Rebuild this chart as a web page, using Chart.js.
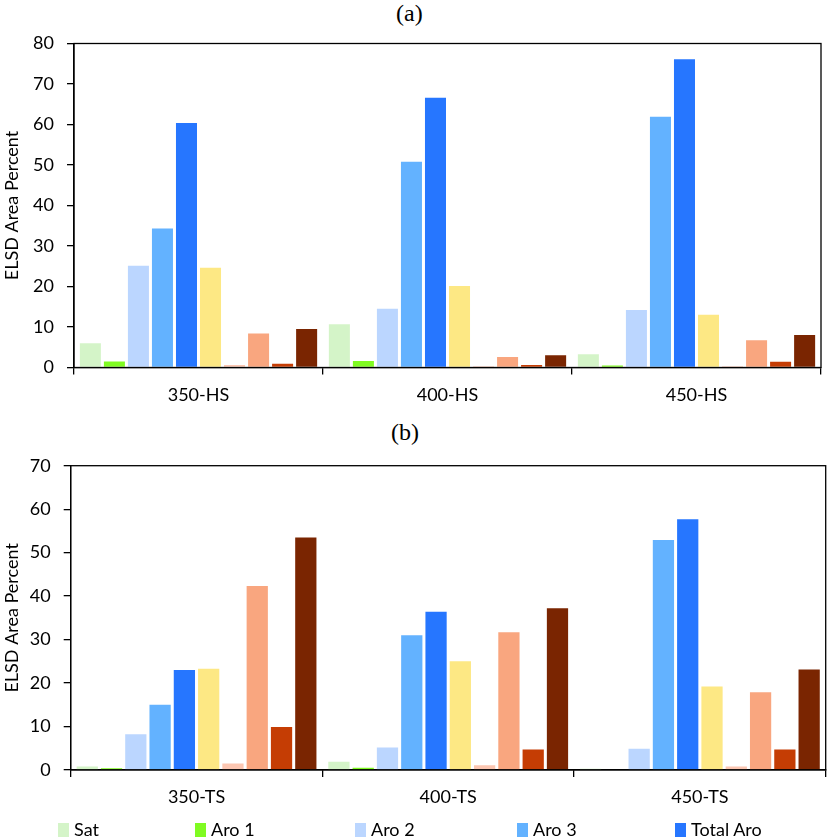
<!DOCTYPE html>
<html>
<head>
<meta charset="utf-8">
<script src="https://cdn.jsdelivr.net/npm/chart.js@4.4.1/dist/chart.umd.min.js"></script>
<style>
  html, body { margin: 0; padding: 0; background: #fff; overflow: hidden; }
  #page { position: relative; width: 827px; height: 837px; font-family: Lato, sans-serif; }
  canvas { position: absolute; left: 0; }
  .panelTitle { position: absolute; font-family: "Liberation Serif", "Times New Roman", serif; font-size: 24px; line-height: 24px; color: #000; }
  .legendItem { position: absolute; top: 819px; font-size: 18px; line-height: 20px; color: #000; white-space: nowrap; }
  .legendItem i { position: absolute; left: 0; top: 4px; width: 11px; height: 16px; }
  .legendItem span { position: absolute; left: 16px; top: 0; }
</style>
</head>
<body>
<div id="page">
  <div class="panelTitle" style="left:396px; top:1px;">(a)</div>
  <canvas id="chartA" width="827" height="418" style="top:0px;"></canvas>
  <div class="panelTitle" style="left:391px; top:420px;">(b)</div>
  <canvas id="chartB" width="827" height="437" style="top:400px;"></canvas>
  <div id="legend"></div>
</div>
<script>
// categories
const groupsHS = ['350-HS', '400-HS', '450-HS'];
const groupsTS = ['350-TS', '400-TS', '450-TS'];

// series names (only the first five are visible in the cropped legend)
const seriesNames = ['Sat', 'Aro 1', 'Aro 2', 'Aro 3', 'Total Aro', 'Sulfides', 'Polar 1', 'Polar 2', 'Polar 3', 'Total Polar'];
const seriesColors = ['#d4f4c8', '#80fb22', '#bbd6ff', '#63b2ff', '#2676ff', '#fde884', '#fcc6b1', '#f9a67f', '#c53d04', '#7a2501'];

// panel (a) values, one array per series, order 350/400/450-HS
const satHS      = [6.0, 10.7, 3.3];
const aro1HS     = [1.5, 1.6, 0.5];
const aro2HS     = [25.1, 14.5, 14.2];
const aro3HS     = [34.3, 50.8, 61.9];
const totAroHS   = [60.4, 66.6, 76.1];
const sulfHS     = [24.6, 20.1, 13.0];
const polar1HS   = [0.6, 0.3, 0.3];
const polar2HS   = [8.4, 2.6, 6.7];
const polar3HS   = [0.9, 0.6, 1.4];
const totPolHS   = [9.5, 3.0, 8.0];

// panel (b) values, order 350/400/450-TS
const satTS      = [0.8, 1.9, 0.3];
const aro1TS     = [0.4, 0.5, 0.2];
const aro2TS     = [8.2, 5.2, 4.9];
const aro3TS     = [15.0, 31.0, 52.9];
const totAroTS   = [23.0, 36.4, 57.7];
const sulfTS     = [23.3, 25.0, 19.2];
const polar1TS   = [1.5, 1.1, 0.8];
const polar2TS   = [42.3, 31.7, 17.9];
const polar3TS   = [9.9, 4.7, 4.7];
const totPolTS   = [53.5, 37.2, 23.1];

const font = { family: 'Lato', size: 18 };

// box round the plot area
const frame = {
  id: 'frame',
  afterDraw(chart) {
    const { ctx, chartArea: a } = chart;
    ctx.save();
    ctx.strokeStyle = '#000';
    ctx.lineWidth = 1.3;
    ctx.strokeRect(a.left, a.top, a.right - a.left, a.bottom - a.top);
    ctx.restore();
  }
};

function makeChart(id, labels, series, yMax, opts) {
  return new Chart(document.getElementById(id), {
    type: 'bar',
    data: {
      labels: labels,
      datasets: series.map((d, i) => ({
        label: seriesNames[i],
        data: d,
        backgroundColor: seriesColors[i],
        borderWidth: 0,
        barPercentage: 0.875,
        categoryPercentage: 0.965
      }))
    },
    options: {
      responsive: false,
      animation: false,
      devicePixelRatio: 1,
      layout: { padding: opts.pad },
      plugins: { legend: { display: false }, tooltip: { enabled: false } },
      scales: {
        x: {
          grid: { offset: true, drawOnChartArea: false, tickLength: 7, color: '#000', lineWidth: 1.3 },
          border: { color: '#000', width: 1.3 },
          ticks: { color: '#000', font: font, padding: opts.xPad },
          afterFit(s) { s.height = opts.xH; }
        },
        y: {
          min: 0,
          max: yMax,
          ticks: { stepSize: 10, color: '#000', font: font, padding: 13 },
          grid: { drawOnChartArea: false, tickLength: 7, color: '#000', lineWidth: 1.3 },
          border: { color: '#000', width: 1.3 },
          title: { display: true, text: 'ELSD Area Percent', color: '#000', font: font, padding: { top: 1, bottom: 0 } },
          afterFit(s) { s.width = opts.yW; }
        }
      }
    },
    plugins: [frame]
  });
}

makeChart('chartA', groupsHS,
  [satHS, aro1HS, aro2HS, aro3HS, totAroHS, sulfHS, polar1HS, polar2HS, polar3HS, totPolHS],
  80, { pad: { top: 43.5, right: 6, left: 0, bottom: 0 }, xH: 50.5, xPad: 10, yW: 74 });

makeChart('chartB', groupsTS,
  [satTS, aro1TS, aro2TS, aro3TS, totAroTS, sulfTS, polar1TS, polar2TS, polar3TS, totPolTS],
  70, { pad: { top: 65.7, right: 1.3, left: 0, bottom: 0 }, xH: 67, xPad: 9, yW: 70.7 });

// legend row (the second row falls below the picture)
const legendX = [58, 195, 355, 517, 675];
const legend = document.getElementById('legend');
legendX.forEach((x, i) => {
  const item = document.createElement('div');
  item.className = 'legendItem';
  item.style.left = x + 'px';
  item.innerHTML = '<i style="background:' + seriesColors[i] + '"></i><span>' + seriesNames[i] + '</span>';
  legend.appendChild(item);
});
</script>
</body>
</html>
